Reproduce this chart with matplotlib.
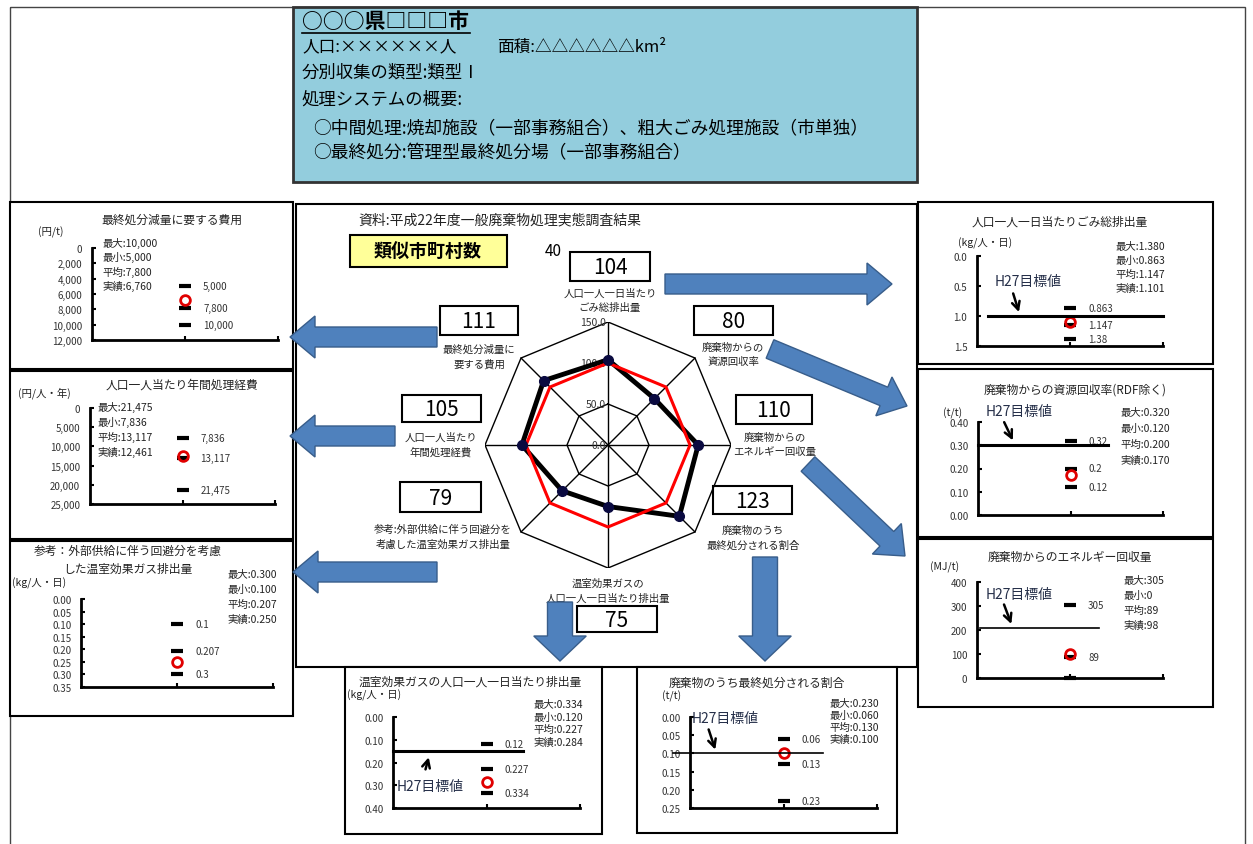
import numpy as np
import matplotlib.pyplot as plt
from matplotlib.patches import Rectangle, FancyArrow

plt.rcParams['font.family'] = ['Noto Sans CJK JP', 'DejaVu Sans']

W, H = 1253, 845  # figure size in pixels

# ---- data ----
header_title = "○○○県□□□市"
header_pop = "人口:××××××人"
header_area = "面積:△△△△△△km²"
header_lines = ["分別収集の類型:類型Ⅰ", "処理システムの概要:"]
header_items = ["○中間処理:焼却施設（一部事務組合）、粗大ごみ処理施設（市単独）",
                "○最終処分:管理型最終処分場（一部事務組合）"]
source_note = "資料:平成22年度一般廃棄物処理実態調査結果"
similar_label = "類似市町村数"
similar_count = 40

radar_labels = ["人口一人一日当たり\nごみ総排出量",
                "廃棄物からの\n資源回収率",
                "廃棄物からの\nエネルギー回収量",
                "廃棄物のうち\n最終処分される割合",
                "温室効果ガスの\n人口一人一日当たり排出量",
                "参考:外部供給に伴う回避分を\n考慮した温室効果ガス排出量",
                "人口一人当たり\n年間処理経費",
                "最終処分減量に\n要する費用"]
radar_values = [104, 80, 110, 123, 75, 79, 105, 111]
radar_average = [100, 100, 100, 100, 100, 100, 100, 100]
radar_rings = [0, 50, 100, 150]

panel_titles = ["最終処分減量に要する費用",
                "人口一人当たり年間処理経費",
                "参考：外部供給に伴う回避分を考慮\nした温室効果ガス排出量",
                "人口一人一日当たりごみ総排出量",
                "廃棄物からの資源回収率(RDF除く)",
                "廃棄物からのエネルギー回収量",
                "温室効果ガスの人口一人一日当たり排出量",
                "廃棄物のうち最終処分される割合"]
panel_units = ["(円/t)", "(円/人・年)", "(kg/人・日)", "(kg/人・日)",
               "(t/t)", "(MJ/t)", "(kg/人・日)", "(t/t)"]
panel_max = [10000, 21475, 0.300, 1.380, 0.320, 305, 0.334, 0.230]
panel_min = [5000, 7836, 0.100, 0.863, 0.120, 0, 0.120, 0.060]
panel_avg = [7800, 13117, 0.207, 1.147, 0.200, 89, 0.227, 0.130]
panel_actual = [6760, 12461, 0.250, 1.101, 0.170, 98, 0.284, 0.100]
panel_target = [None, None, None, 1.0, 0.30, 210, 0.15, 0.10]
panel_ymax = [12000, 25000, 0.35, 1.5, 0.40, 400, 0.40, 0.25]
panel_ystep = [2000, 5000, 0.05, 0.5, 0.10, 100, 0.10, 0.05]
panel_inverted = [True, True, True, True, False, False, True, True]
tick_fmt = ["{:,.0f}", "{:,.0f}", "{:.2f}", "{:.1f}", "{:.2f}", "{:.0f}", "{:.2f}", "{:.2f}"]
stat_fmt = ["{:,.0f}", "{:,.0f}", "{:.3f}", "{:.3f}", "{:.3f}", "{:.0f}", "{:.3f}", "{:.3f}"]
mark_fmt = ["{:,.0f}", "{:,.0f}", "{:g}", "{:g}", "{:g}", "{:g}", "{:g}", "{:g}"]
stat_names = ["最大", "最小", "平均", "実績"]
target_label = "H27目標値"

# ---- layout (pixels) ----
panel_layout = [
    dict(box=(10, 203, 293, 370), ax=(92, 249, 278, 341), title=(172, 220), unit=(38, 232),
         stats=(102, 243, 14.5)),
    dict(box=(10, 372, 293, 540), ax=(90, 409, 275, 505), title=(182, 385), unit=(18, 393),
         stats=(97, 407, 15)),
    dict(box=(10, 542, 293, 717), ax=(81, 600, 273, 688), title=(128, 560), unit=(12, 583),
         stats=(227, 575, 15)),
    dict(box=(918, 203, 1213, 365), ax=(977, 257, 1163, 347), title=(1060, 222), unit=(958, 243),
         stats=(1115, 247, 14), line=(0.12, 2.0, 2.2), ttext=(0.19, 0.42),
         arrow=((0.38, 0.58), (0.46, 0.98))),
    dict(box=(918, 370, 1213, 538), ax=(978, 423, 1163, 516), title=(1075, 390), unit=(943, 413),
         stats=(1120, 413, 16), line=(0.0, 1.4, 2.2), ttext=(0.08, 0.447),
         arrow=((0.27, 0.41), (0.39, 0.31))),
    dict(box=(918, 540, 1213, 708), ax=(977, 583, 1163, 679), title=(1070, 557), unit=(930, 567),
         stats=(1123, 581, 15), line=(0.03, 1.31, 1.2), ttext=(0.09, 350),
         arrow=((0.28, 317), (0.38, 214))),
    dict(box=(345, 668, 602, 835), ax=(393, 718, 580, 809), title=(470, 682), unit=(347, 695),
         stats=(533, 705, 12.5), line=(0.0, 1.39, 2.2), ttext=(0.04, 0.303),
         arrow=((0.34, 0.242), (0.39, 0.165))),
    dict(box=(637, 668, 897, 834), ax=(690, 718, 877, 809), title=(757, 683), unit=(662, 696),
         stats=(829, 704, 12), line=(-0.18, 1.42, 1.2), ttext=(0.02, 0.003),
         arrow=((0.19, 0.027), (0.28, 0.097))),
]

radar_center = (608, 446)
radar_radius = 123
value_boxes = [(570, 253, 650, 282), (694, 307, 773, 336), (736, 396, 812, 425), (713, 487, 792, 515),
               (577, 607, 657, 633), (400, 483, 481, 513), (402, 396, 481, 423), (440, 307, 518, 336)]
label_pos = [(610, 301), (733, 355), (775, 445), (753, 538), (608, 591), (443, 537), (441, 445), (479, 357)]

blue_arrows = [(665, 285, 892, 285, 20), (770, 350, 907, 407, 20), (808, 465, 905, 557, 20),
               (437, 338, 290, 338, 20), (395, 437, 290, 437, 20), (437, 573, 293, 573, 20),
               (560, 603, 560, 662, 25), (765, 558, 765, 662, 25)]

TXT = '#222222'
NAVY = '#26304a'


def fig_rect(x0, y0, x1, y1):
    return [x0 / W, 1 - y1 / H, (x1 - x0) / W, (y1 - y0) / H]


fig = plt.figure(figsize=(W / 100, H / 100), dpi=100)
bg = fig.add_axes([0, 0, 1, 1])
bg.set_xlim(0, W)
bg.set_ylim(H, 0)
bg.axis('off')

# outer frame
bg.add_patch(Rectangle((10, 8), 1235, 850, fill=False, lw=1, ec='#444444', clip_on=False))

# header box
bg.add_patch(Rectangle((293, 8), 624, 175, fc='#93CDDD', ec='#333333', lw=2))
bg.text(302, 22, header_title, fontsize=15, fontweight='bold', va='center')
bg.plot([302, 470], [34, 34], color='black', lw=1.2)
bg.text(302, 47, header_pop, fontsize=12, va='center')
bg.text(497, 47, header_area, fontsize=12, va='center')
for i, line in enumerate(header_lines):
    bg.text(302, 73 + 27 * i, line, fontsize=12.5, va='center')
for i, line in enumerate(header_items):
    bg.text(313, 128 + 25 * i, line, fontsize=12.8, va='center')

# center panel
bg.add_patch(Rectangle((296, 205), 621, 463, fc='white', ec='black', lw=1.5))
bg.text(358, 220, source_note, fontsize=10, va='center', color=TXT)
bg.add_patch(Rectangle((350, 236), 157, 32, fc='#FFFF99', ec='black', lw=1.5))
bg.text(428, 252, similar_label, fontsize=13, fontweight='bold', ha='center', va='center')
bg.text(545, 252, str(similar_count), fontsize=11, va='center')

for (x0, y0, x1, y1), val in zip(value_boxes, radar_values):
    bg.add_patch(Rectangle((x0, y0), x1 - x0, y1 - y0, fc='white', ec='black', lw=1.5))
    bg.text((x0 + x1) / 2, (y0 + y1) / 2 + 1, str(val), fontsize=15, ha='center', va='center')
for (x, y), lab in zip(label_pos, radar_labels):
    bg.text(x, y, lab, fontsize=7.5, ha='center', va='center', linespacing=1.6, color=TXT)

# blue arrows
for x0, y0, x1, y1, w in blue_arrows:
    bg.add_patch(FancyArrow(x0, y0, x1 - x0, y1 - y0, width=w, head_width=w * 2.1,
                            head_length=25, length_includes_head=True,
                            fc='#4F81BD', ec='#385D8A', lw=1, zorder=3))

# panel boxes and texts
for i, lay in enumerate(panel_layout):
    x0, y0, x1, y1 = lay['box']
    bg.add_patch(Rectangle((x0, y0), x1 - x0, y1 - y0, fc='white', ec='black', lw=1.5, zorder=1))
    bg.text(*lay['title'], panel_titles[i], fontsize=8.5, ha='center', va='center',
            linespacing=1.5, color=TXT)
    bg.text(*lay['unit'], panel_units[i], fontsize=7.5, va='center', color=TXT)
    sx, sy, sdy = lay['stats']
    stats = [panel_max[i], panel_min[i], panel_avg[i], panel_actual[i]]
    for k, (name, v) in enumerate(zip(stat_names, stats)):
        bg.text(sx, sy + sdy * k, name + ":" + stat_fmt[i].format(v), fontsize=7.5,
                va='center', color=TXT)

# small charts
for i, lay in enumerate(panel_layout):
    ax = fig.add_axes(fig_rect(*lay['ax']))
    ax.patch.set_alpha(0)
    ax.set_xlim(0, 2)
    if panel_inverted[i]:
        ax.set_ylim(panel_ymax[i], 0)
    else:
        ax.set_ylim(0, panel_ymax[i])
    ticks = np.arange(0, panel_ymax[i] + panel_ystep[i] / 2, panel_ystep[i])
    ax.set_yticks(ticks)
    ax.set_yticklabels([tick_fmt[i].format(t) for t in ticks], fontsize=7, color='#333333')
    ax.set_xticks([1, 2])
    ax.set_xticklabels([])
    ax.tick_params(axis='y', direction='in', length=3, width=1.5, pad=7)
    ax.tick_params(axis='x', direction='in', length=3, width=1.5)
    for s in ['top', 'right']:
        ax.spines[s].set_visible(False)
    for s in ['left', 'bottom']:
        ax.spines[s].set_linewidth(2)

    for v in [panel_min[i], panel_avg[i], panel_max[i]]:
        ax.plot([1], [v], marker='_', ms=8, mew=3, color='black', clip_on=False, zorder=3)
        if v != 0:
            ax.annotate(mark_fmt[i].format(v), (1, v), xytext=(13, 0), textcoords='offset points',
                        va='center', fontsize=7, color='#333333', annotation_clip=False)
    ax.plot([1], [panel_actual[i]], 'o', ms=7, mfc='none', mec='#E00000', mew=2,
            clip_on=False, zorder=4)

    if panel_target[i] is not None:
        lx0, lx1, lw = lay['line']
        ax.plot([lx0, lx1], [panel_target[i]] * 2, color='black', lw=lw, clip_on=False, zorder=5)
        ax.text(*lay['ttext'], target_label, fontsize=10, color=NAVY, va='center', clip_on=False)
        (ax0, ay0), (ax1, ay1) = lay['arrow']
        ax.annotate('', xy=(ax1, ay1), xytext=(ax0, ay0), annotation_clip=False,
                    arrowprops=dict(arrowstyle='->', lw=1.8, color='black', mutation_scale=14))

# radar chart
cx, cy = radar_center
R = radar_radius
rax = fig.add_axes(fig_rect(cx - R, cy - R, cx + R, cy + R))
rax.set_xlim(-150, 150)
rax.set_ylim(-150, 150)
rax.axis('off')
angles = np.deg2rad(np.arange(len(radar_values)) * 360 / len(radar_values))
angles_c = np.append(angles, angles[0])
for ring in radar_rings[1:]:
    rax.plot(ring * np.sin(angles_c), ring * np.cos(angles_c), color='black', lw=1)
for a in angles:
    rax.plot([0, radar_rings[-1] * np.sin(a)], [0, radar_rings[-1] * np.cos(a)], color='black', lw=1)
for ring in radar_rings:
    rax.text(-3, ring, f"{ring:.1f}", fontsize=7.5, ha='right', va='center', color='#333333')
vals = np.append(radar_values, radar_values[0])
avg = np.append(radar_average, radar_average[0])
rax.plot(vals * np.sin(angles_c), vals * np.cos(angles_c), color='black', lw=3.5, zorder=3)
rax.plot(avg * np.sin(angles_c), avg * np.cos(angles_c), color='#FF0000', lw=2.2, zorder=4)
rax.plot(vals[:-1] * np.sin(angles), vals[:-1] * np.cos(angles), 'o', color='#0A0A40', ms=7, zorder=5)

fig.savefig('out.png', dpi=100)
